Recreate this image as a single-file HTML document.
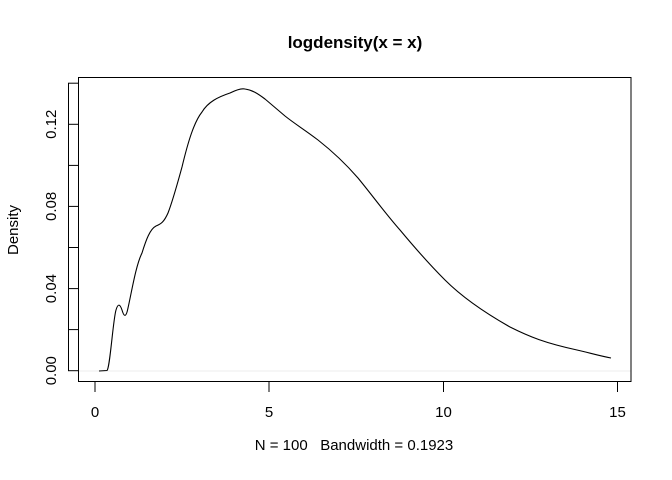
<!DOCTYPE html>
<html><head><style>body{margin:0;background:#fff}svg{display:block}</style></head><body>
<svg width="672" height="480" viewBox="0 0 672 480" xmlns="http://www.w3.org/2000/svg" font-family="Liberation Sans, Arial, sans-serif">
<rect width="672" height="480" fill="#fff"/>
<text x="355" y="48" text-anchor="middle" font-size="17" font-weight="bold">logdensity(x = x)</text>
<line x1="79" y1="371" x2="631" y2="371" stroke="#eee" stroke-width="1"/>
<rect x="78.5" y="77.5" width="552.5" height="304" fill="none" stroke="#000" stroke-width="1"/>
<g stroke="#000" stroke-width="1">
<line x1="95" y1="382" x2="95" y2="392"/><line x1="269" y1="382" x2="269" y2="392"/><line x1="443.5" y1="382" x2="443.5" y2="392"/><line x1="617.5" y1="382" x2="617.5" y2="392"/>
<line x1="68" y1="370.7" x2="78" y2="370.7"/><line x1="68" y1="329.6" x2="78" y2="329.6"/><line x1="68" y1="288.6" x2="78" y2="288.6"/><line x1="68" y1="247.5" x2="78" y2="247.5"/><line x1="68" y1="206.4" x2="78" y2="206.4"/><line x1="68" y1="165.4" x2="78" y2="165.4"/><line x1="68" y1="124.3" x2="78" y2="124.3"/><line x1="68" y1="83.2" x2="78" y2="83.2"/>
<line x1="68.5" y1="83.2" x2="68.5" y2="370.7"/>
</g>
<g font-size="15" text-anchor="middle">
<text x="95" y="417">0</text><text x="269" y="417">5</text><text x="443.5" y="417">10</text><text x="617.5" y="417">15</text>
<text transform="translate(56,370.7) rotate(-90)">0.00</text>
<text transform="translate(56,288.6) rotate(-90)">0.04</text>
<text transform="translate(56,206.4) rotate(-90)">0.08</text>
<text transform="translate(56,124.3) rotate(-90)">0.12</text>
<text x="354" y="450" xml:space="preserve" style="white-space:pre">N = 100   Bandwidth = 0.1923</text>
<text transform="translate(18,230) rotate(-90)">Density</text>
</g>
<path fill="none" stroke="#000" stroke-width="1.1" d="M99,371 L107,370.5 C110,368 113,320 116,310 C118,303 120,304 122,310 C124,317 126,318 128,308 C132,290 136,265 142,253 C146,240 150,229 156,226 C161,224 164,222 168,213 C173,200 177,185 182,167 C188,142 194,122 202,112 C208,102 218,97 230,93 C236,90 241,88 245,89 C252,90 257,93 265,99 C272,105 278,110 285,116 C295,124 305,130 318,140 C332,151 345,163 358,178 C372,195 385,213 400,230 C415,248 430,265 445,280 C460,295 480,310 510,327 C530,337 545,343 577,350 C590,353 600,356 611,358"/>
</svg>
</body></html>
